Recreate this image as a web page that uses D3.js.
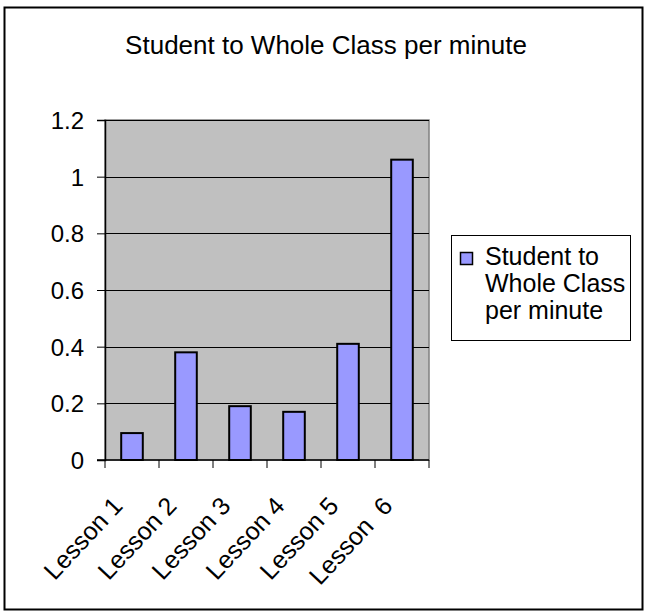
<!DOCTYPE html>
<html>
<head>
<meta charset="utf-8">
<script src="https://cdn.jsdelivr.net/npm/d3@7"></script>
<style>
  body { margin: 0; background: #fff; }
  text { font-family: "Liberation Sans", Arial, sans-serif; fill: #000; }
</style>
</head>
<body>
<svg id="chart" width="645" height="614"></svg>
<script>
const lessons = ["Lesson 1", "Lesson 2", "Lesson 3", "Lesson 4", "Lesson 5", "Lesson  6"];
const perMinute = [0.095, 0.38, 0.19, 0.17, 0.41, 1.06];
const yTicks = [0, 0.2, 0.4, 0.6, 0.8, 1, 1.2];
const seriesName = ["Student to", "Whole Class", "per minute"];
const chartTitle = "Student to Whole Class per minute";

const svg = d3.select("#chart");

// outer frame
svg.append("rect")
  .attr("x", 4.5).attr("y", 7.5)
  .attr("width", 638).attr("height", 602)
  .attr("fill", "#fff").attr("stroke", "#000").attr("stroke-width", 2);

svg.append("text")
  .attr("x", 326).attr("y", 54)
  .attr("text-anchor", "middle")
  .style("font-size", "26px")
  .text(chartTitle);

const plotL = 105, plotR = 429, plotT = 120, plotB = 460;

const x = d3.scaleBand().domain(lessons).range([plotL, plotR]).paddingInner(0.6).paddingOuter(0.3);
const xCat = d3.scaleBand().domain(lessons).range([plotL, plotR]);
const y = d3.scaleLinear().domain([0, 1.2]).range([plotB, plotT]);

// plot area
svg.append("rect")
  .attr("x", plotL).attr("y", plotT)
  .attr("width", plotR - plotL).attr("height", plotB - plotT)
  .attr("fill", "#c0c0c0").attr("stroke", "#808080").attr("stroke-width", 1.5);

// gridlines
svg.append("g")
  .selectAll("line")
  .data(yTicks.filter(d => d > 0))
  .enter().append("line")
  .attr("x1", plotL).attr("x2", plotR)
  .attr("y1", d => Math.round(y(d)) + 0.5).attr("y2", d => Math.round(y(d)) + 0.5)
  .attr("stroke", "#000").attr("stroke-width", 1);

// bars
svg.append("g")
  .selectAll("rect")
  .data(perMinute)
  .enter().append("rect")
  .attr("x", (d, i) => x(lessons[i]))
  .attr("y", d => y(d))
  .attr("width", x.bandwidth())
  .attr("height", d => plotB - y(d))
  .attr("fill", "#9999ff").attr("stroke", "#000").attr("stroke-width", 2);

// y axis
const yAxis = svg.append("g")
  .attr("transform", "translate(" + plotL + ",0)")
  .call(d3.axisLeft(y).tickValues(yTicks).tickSize(8).tickPadding(13).tickFormat(d3.format("~g")));
yAxis.select(".domain").attr("stroke", "#000").attr("stroke-width", 1.5);
yAxis.selectAll(".tick line").attr("stroke", "#000");
yAxis.selectAll("text").style("font-size", "24px").attr("dy", "0.36em");

// x axis (ticks at category edges)
const xAxis = svg.append("g")
  .attr("transform", "translate(0," + plotB + ")");
xAxis.append("line")
  .attr("x1", plotL - 8).attr("x2", plotR)
  .attr("stroke", "#000").attr("stroke-width", 1.5);
xAxis.selectAll(".tk")
  .data(lessons.concat(["end"]))
  .enter().append("line")
  .attr("x1", (d, i) => plotL + i * xCat.bandwidth())
  .attr("x2", (d, i) => plotL + i * xCat.bandwidth())
  .attr("y1", 0).attr("y2", 8)
  .attr("stroke", "#000");
xAxis.selectAll(".lbl")
  .data(lessons)
  .enter().append("text")
  .attr("text-anchor", "end")
  .attr("transform", d => "translate(" + (xCat(d) + xCat.bandwidth() / 2 - 8) + ",47) rotate(-47)")
  .style("font-size", "25px")
  .style("white-space", "pre")
  .text(d => d);

// legend
const legend = svg.append("g");
legend.append("rect")
  .attr("x", 451.5).attr("y", 235.5).attr("width", 179).attr("height", 105)
  .attr("fill", "#fff").attr("stroke", "#000").attr("stroke-width", 1);
legend.append("rect")
  .attr("x", 460.5).attr("y", 252.5).attr("width", 12).attr("height", 12)
  .attr("fill", "#9999ff").attr("stroke", "#000").attr("stroke-width", 1.5);
legend.selectAll(".ln")
  .data(seriesName)
  .enter().append("text")
  .attr("x", 485)
  .attr("y", (d, i) => 265 + i * 27)
  .style("font-size", "25px")
  .text(d => d);
</script>
</body>
</html>
